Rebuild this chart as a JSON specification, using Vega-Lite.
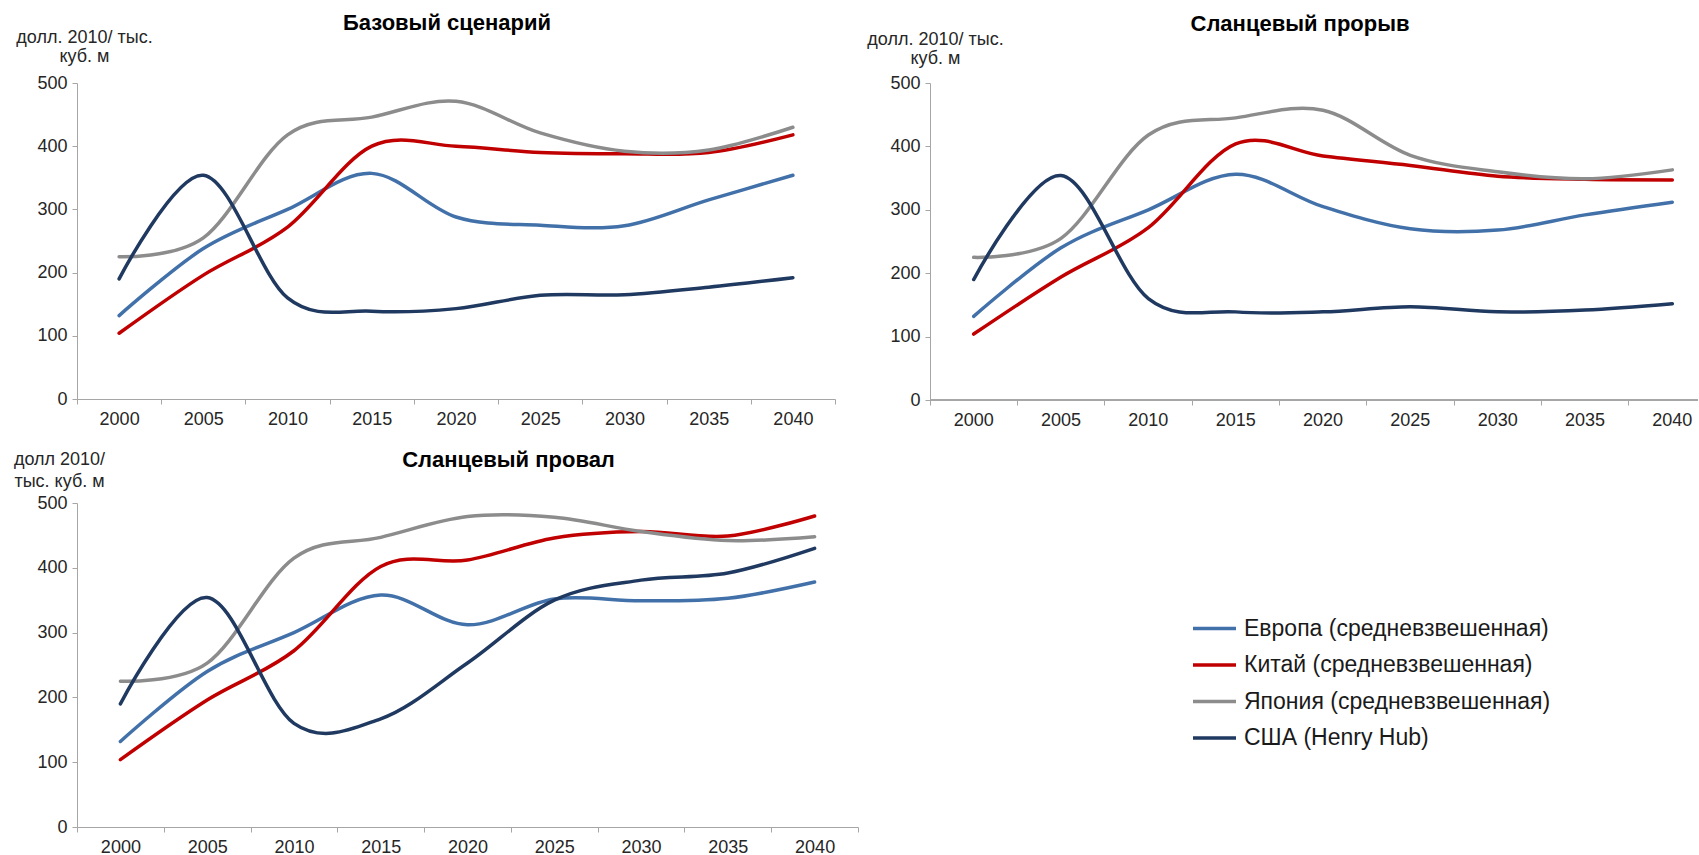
{
  "$schema": "https://vega.github.io/schema/vega-lite/v6.json",
  "padding": {"left": 13, "top": 12, "right": 0, "bottom": 0},
  "background": "white",
  "columns": 2,
  "bounds": "flush",
  "spacing": {"row": 103, "column": 72},
  "config": {
    "view": {"stroke": null},
    "font": "Liberation Sans",
    "axis": {
      "domainColor": "#A6A6A6", "tickColor": "#A6A6A6", "domainWidth": 1, "tickWidth": 1, "tickSize": 5,
      "labelFont": "Liberation Sans", "labelFontSize": 18, "labelColor": "#262626", "grid": false,
      "titleFont": "Liberation Sans", "titleFontSize": 18, "titleFontWeight": "normal", "titleColor": "#262626"
    },
    "axisY": {"labelPadding": 5},
    "axisX": {"labelPadding": 6, "labelAngle": 0},
    "title": {"font": "Liberation Sans", "fontSize": 22, "fontWeight": "bold", "color": "#000000", "anchor": "middle", "frame": "group", "baseline": "top"}
  },
  "datasets": {
    "base": [
      {"r": "Европа (средневзвешенная)", "y": "2000", "v": 132}, {"r": "Европа (средневзвешенная)", "y": "2005", "v": 238}, {"r": "Европа (средневзвешенная)", "y": "2010", "v": 300}, {"r": "Европа (средневзвешенная)", "y": "2015", "v": 357}, {"r": "Европа (средневзвешенная)", "y": "2020", "v": 288}, {"r": "Европа (средневзвешенная)", "y": "2025", "v": 275}, {"r": "Европа (средневзвешенная)", "y": "2030", "v": 274}, {"r": "Европа (средневзвешенная)", "y": "2035", "v": 315}, {"r": "Европа (средневзвешенная)", "y": "2040", "v": 354},
      {"r": "Китай (средневзвешенная)", "y": "2000", "v": 104}, {"r": "Китай (средневзвешенная)", "y": "2005", "v": 196}, {"r": "Китай (средневзвешенная)", "y": "2010", "v": 272}, {"r": "Китай (средневзвешенная)", "y": "2015", "v": 400}, {"r": "Китай (средневзвешенная)", "y": "2020", "v": 400}, {"r": "Китай (средневзвешенная)", "y": "2025", "v": 390}, {"r": "Китай (средневзвешенная)", "y": "2030", "v": 388}, {"r": "Китай (средневзвешенная)", "y": "2035", "v": 390}, {"r": "Китай (средневзвешенная)", "y": "2040", "v": 418},
      {"r": "Япония (средневзвешенная)", "y": "2000", "v": 225}, {"r": "Япония (средневзвешенная)", "y": "2005", "v": 255}, {"r": "Япония (средневзвешенная)", "y": "2010", "v": 418}, {"r": "Япония (средневзвешенная)", "y": "2015", "v": 446}, {"r": "Япония (средневзвешенная)", "y": "2020", "v": 471}, {"r": "Япония (средневзвешенная)", "y": "2025", "v": 421}, {"r": "Япония (средневзвешенная)", "y": "2030", "v": 392}, {"r": "Япония (средневзвешенная)", "y": "2035", "v": 394}, {"r": "Япония (средневзвешенная)", "y": "2040", "v": 430},
      {"r": "США (Henry Hub)", "y": "2000", "v": 190}, {"r": "США (Henry Hub)", "y": "2005", "v": 354}, {"r": "США (Henry Hub)", "y": "2010", "v": 160}, {"r": "США (Henry Hub)", "y": "2015", "v": 139}, {"r": "США (Henry Hub)", "y": "2020", "v": 143}, {"r": "США (Henry Hub)", "y": "2025", "v": 164}, {"r": "США (Henry Hub)", "y": "2030", "v": 165}, {"r": "США (Henry Hub)", "y": "2035", "v": 177}, {"r": "США (Henry Hub)", "y": "2040", "v": 192}
    ],
    "up": [
      {"r": "Европа (средневзвешенная)", "y": "2000", "v": 132}, {"r": "Европа (средневзвешенная)", "y": "2005", "v": 240}, {"r": "Европа (средневзвешенная)", "y": "2010", "v": 300}, {"r": "Европа (средневзвешенная)", "y": "2015", "v": 356}, {"r": "Европа (средневзвешенная)", "y": "2020", "v": 305}, {"r": "Европа (средневзвешенная)", "y": "2025", "v": 270}, {"r": "Европа (средневзвешенная)", "y": "2030", "v": 268}, {"r": "Европа (средневзвешенная)", "y": "2035", "v": 292}, {"r": "Европа (средневзвешенная)", "y": "2040", "v": 312},
      {"r": "Китай (средневзвешенная)", "y": "2000", "v": 104}, {"r": "Китай (средневзвешенная)", "y": "2005", "v": 194}, {"r": "Китай (средневзвешенная)", "y": "2010", "v": 272}, {"r": "Китай (средневзвешенная)", "y": "2015", "v": 404}, {"r": "Китай (средневзвешенная)", "y": "2020", "v": 385}, {"r": "Китай (средневзвешенная)", "y": "2025", "v": 370}, {"r": "Китай (средневзвешенная)", "y": "2030", "v": 353}, {"r": "Китай (средневзвешенная)", "y": "2035", "v": 348}, {"r": "Китай (средневзвешенная)", "y": "2040", "v": 347},
      {"r": "Япония (средневзвешенная)", "y": "2000", "v": 225}, {"r": "Япония (средневзвешенная)", "y": "2005", "v": 255}, {"r": "Япония (средневзвешенная)", "y": "2010", "v": 418}, {"r": "Япония (средневзвешенная)", "y": "2015", "v": 445}, {"r": "Япония (средневзвешенная)", "y": "2020", "v": 457}, {"r": "Япония (средневзвешенная)", "y": "2025", "v": 386}, {"r": "Япония (средневзвешенная)", "y": "2030", "v": 360}, {"r": "Япония (средневзвешенная)", "y": "2035", "v": 349}, {"r": "Япония (средневзвешенная)", "y": "2040", "v": 363},
      {"r": "США (Henry Hub)", "y": "2000", "v": 190}, {"r": "США (Henry Hub)", "y": "2005", "v": 354}, {"r": "США (Henry Hub)", "y": "2010", "v": 160}, {"r": "США (Henry Hub)", "y": "2015", "v": 139}, {"r": "США (Henry Hub)", "y": "2020", "v": 139}, {"r": "США (Henry Hub)", "y": "2025", "v": 147}, {"r": "США (Henry Hub)", "y": "2030", "v": 139}, {"r": "США (Henry Hub)", "y": "2035", "v": 142}, {"r": "США (Henry Hub)", "y": "2040", "v": 152}
    ],
    "down": [
      {"r": "Европа (средневзвешенная)", "y": "2000", "v": 132}, {"r": "Европа (средневзвешенная)", "y": "2005", "v": 240}, {"r": "Европа (средневзвешенная)", "y": "2010", "v": 300}, {"r": "Европа (средневзвешенная)", "y": "2015", "v": 358}, {"r": "Европа (средневзвешенная)", "y": "2020", "v": 312}, {"r": "Европа (средневзвешенная)", "y": "2025", "v": 352}, {"r": "Европа (средневзвешенная)", "y": "2030", "v": 349}, {"r": "Европа (средневзвешенная)", "y": "2035", "v": 353}, {"r": "Европа (средневзвешенная)", "y": "2040", "v": 378},
      {"r": "Китай (средневзвешенная)", "y": "2000", "v": 104}, {"r": "Китай (средневзвешенная)", "y": "2005", "v": 196}, {"r": "Китай (средневзвешенная)", "y": "2010", "v": 272}, {"r": "Китай (средневзвешенная)", "y": "2015", "v": 402}, {"r": "Китай (средневзвешенная)", "y": "2020", "v": 412}, {"r": "Китай (средневзвешенная)", "y": "2025", "v": 446}, {"r": "Китай (средневзвешенная)", "y": "2030", "v": 456}, {"r": "Китай (средневзвешенная)", "y": "2035", "v": 449}, {"r": "Китай (средневзвешенная)", "y": "2040", "v": 480},
      {"r": "Япония (средневзвешенная)", "y": "2000", "v": 225}, {"r": "Япония (средневзвешенная)", "y": "2005", "v": 253}, {"r": "Япония (средневзвешенная)", "y": "2010", "v": 415}, {"r": "Япония (средневзвешенная)", "y": "2015", "v": 447}, {"r": "Япония (средневзвешенная)", "y": "2020", "v": 479}, {"r": "Япония (средневзвешенная)", "y": "2025", "v": 478}, {"r": "Япония (средневзвешенная)", "y": "2030", "v": 456}, {"r": "Япония (средневзвешенная)", "y": "2035", "v": 442}, {"r": "Япония (средневзвешенная)", "y": "2040", "v": 448},
      {"r": "США (Henry Hub)", "y": "2000", "v": 190}, {"r": "США (Henry Hub)", "y": "2005", "v": 354}, {"r": "США (Henry Hub)", "y": "2010", "v": 160}, {"r": "США (Henry Hub)", "y": "2015", "v": 167}, {"r": "США (Henry Hub)", "y": "2020", "v": 253}, {"r": "США (Henry Hub)", "y": "2025", "v": 350}, {"r": "США (Henry Hub)", "y": "2030", "v": 381}, {"r": "США (Henry Hub)", "y": "2035", "v": 392}, {"r": "США (Henry Hub)", "y": "2040", "v": 430}
    ]
  },
  "concat": [
    {
      "width": 758, "height": 316,
      "title": {"text": "Базовый сценарий", "dx": -9, "offset": -7},
      "data": {"name": "base"},
      "mark": {"type": "line", "interpolate": "cardinal", "strokeWidth": 3.5, "strokeCap": "round"},
      "encoding": {
        "x": {"field": "y", "type": "ordinal", "bandPosition": 0.5, "scale": {"type": "band", "paddingInner": 0, "paddingOuter": 0}, "axis": {"title": null, "tickBand": "extent"}},
        "y": {"field": "v", "type": "quantitative", "scale": {"domain": [0, 500], "nice": false},
              "axis": {"values": [0, 100, 200, 300, 400, 500], "title": ["долл. 2010/ тыс.", "куб. м"], "titleAngle": 0, "titleAlign": "center", "titleBaseline": "top", "titleX": 7, "titleY": -55, "titleLineHeight": 19}},
        "color": {"field": "r", "type": "nominal",
                  "scale": {"domain": ["Европа (средневзвешенная)", "Китай (средневзвешенная)", "Япония (средневзвешенная)", "США (Henry Hub)"], "range": ["#4271AA", "#C00000", "#8C8C8C", "#1F3960"]},
                  "legend": {"orient": "none", "legendX": 1114, "legendY": 522, "title": null, "symbolType": "stroke", "symbolSize": 1849, "symbolStrokeWidth": 3.5, "labelFontSize": 23, "labelFont": "Liberation Sans", "labelColor": "#1a1a1a", "labelOffset": 6, "labelLimit": 600, "rowPadding": 0.5, "padding": 0}}
      }
    },
    {
      "width": 768, "height": 317,
      "title": {"text": "Сланцевый прорыв", "dx": -14, "offset": -6},
      "data": {"name": "up"},
      "layer": [
        {
          "mark": {"type": "line", "interpolate": "cardinal", "strokeWidth": 3.5, "strokeCap": "round"},
          "encoding": {
            "x": {"field": "y", "type": "ordinal", "bandPosition": 0.5, "scale": {"type": "band", "paddingInner": 0, "paddingOuter": 0, "rangeMax": 786}, "axis": {"title": null, "bandPosition": 0, "domain": false}},
            "y": {"field": "v", "type": "quantitative", "scale": {"domain": [0, 500], "nice": false},
                  "axis": {"values": [0, 100, 200, 300, 400, 500], "title": ["долл. 2010/ тыс.", "куб. м"], "titleAngle": 0, "titleAlign": "center", "titleBaseline": "top", "titleX": 5, "titleY": -53, "titleLineHeight": 19}},
            "color": {"field": "r", "type": "nominal",
                      "scale": {"domain": ["Европа (средневзвешенная)", "Китай (средневзвешенная)", "Япония (средневзвешенная)", "США (Henry Hub)"], "range": ["#4271AA", "#C00000", "#8C8C8C", "#1F3960"]},
                      "legend": {"orient": "none", "legendX": 1114, "legendY": 522, "title": null, "symbolType": "stroke", "symbolSize": 1849, "symbolStrokeWidth": 3.5, "labelFontSize": 23, "labelFont": "Liberation Sans", "labelColor": "#1a1a1a", "labelOffset": 6, "labelLimit": 600, "rowPadding": 0.5, "padding": 0}}
          }
        },
        {
          "mark": {"type": "rule", "color": "#A6A6A6", "strokeWidth": 1},
          "encoding": {"y": {"datum": 0}}
        }
      ]
    },
    {
      "width": 781, "height": 324,
      "title": {"text": "Сланцевый провал", "dx": 41, "offset": -22},
      "data": {"name": "down"},
      "mark": {"type": "line", "interpolate": "cardinal", "strokeWidth": 3.5, "strokeCap": "round"},
      "encoding": {
        "x": {"field": "y", "type": "ordinal", "bandPosition": 0.5, "scale": {"type": "band", "paddingInner": 0, "paddingOuter": 0}, "axis": {"title": null, "tickBand": "extent"}},
        "y": {"field": "v", "type": "quantitative", "scale": {"domain": [0, 500], "nice": false},
              "axis": {"values": [0, 100, 200, 300, 400, 500], "title": ["долл 2010/", "тыс. куб. м"], "titleAngle": 0, "titleAlign": "center", "titleBaseline": "top", "titleX": -18, "titleY": -53, "titleLineHeight": 22}},
        "color": {"field": "r", "type": "nominal",
                  "scale": {"domain": ["Европа (средневзвешенная)", "Китай (средневзвешенная)", "Япония (средневзвешенная)", "США (Henry Hub)"], "range": ["#4271AA", "#C00000", "#8C8C8C", "#1F3960"]},
                  "legend": {"orient": "none", "legendX": 1114, "legendY": 522, "title": null, "symbolType": "stroke", "symbolSize": 1849, "symbolStrokeWidth": 3.5, "labelFontSize": 23, "labelFont": "Liberation Sans", "labelColor": "#1a1a1a", "labelOffset": 6, "labelLimit": 600, "rowPadding": 0.5, "padding": 0}}
      }
    }
  ]
}
